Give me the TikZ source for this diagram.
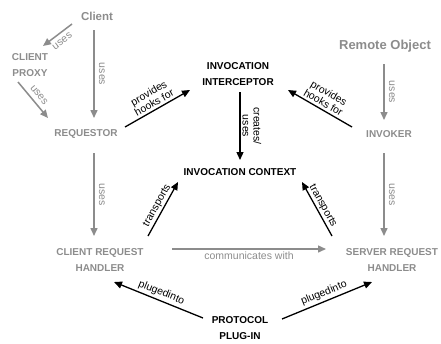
\documentclass[tikz,border=0pt]{standalone}
\usepackage{fontspec}
\setmainfont{Liberation Sans}
\usetikzlibrary{arrows.meta}
\definecolor{lgray}{RGB}{140,140,140}
\begin{document}
\begin{tikzpicture}[x=1pt,y=-1pt,
 every node/.style={inner sep=0pt, outer sep=0pt},
 nd/.style={font=\bfseries\fontsize{10}{16}\selectfont, align=center},
 gnd/.style={nd, text=lgray},
 bigg/.style={font=\bfseries\fontsize{11.5}{14}\selectfont, text=lgray},
 lbl/.style={font=\fontsize{10.5}{11}\selectfont, sloped, inner sep=3pt, align=center},
 glbl/.style={lbl, text=lgray, inner sep=5pt},
 barrow/.style={draw=black, line width=1.3pt, -{Triangle[length=8pt,width=7pt]}},
 garrow/.style={draw=lgray, line width=1.5pt, -{Triangle[length=8pt,width=7pt]}},
]
\useasboundingbox (0,0) rectangle (441,343);
\node[bigg] (client) at (97,16) {Client};
\node[gnd] (proxy) at (30,65) {CLIENT\\PROXY};
\node[gnd] (requestor) at (86,134) {REQUESTOR};
\node[nd] (interceptor) at (238,74) {INVOCATION\\INTERCEPTOR};
\node[bigg, font=\bfseries\fontsize{13}{14}\selectfont] (remote) at (385,46) {Remote Object};
\node[gnd] (invoker) at (389,134) {INVOKER};
\node[nd] (context) at (240,172) {INVOCATION CONTEXT};
\node[gnd] (crh) at (100,260) {CLIENT REQUEST\\HANDLER};
\node[gnd] (srh) at (392,260) {SERVER REQUEST\\HANDLER};
\node[nd] (ppi) at (240,328) {PROTOCOL\\PLUG-IN};

\draw[garrow] ([shift={(-25,8)}]client.center) -- node[glbl,below]{uses} ([shift={(13,-19)}]proxy.center);
\draw[garrow] ([shift={(-3,14)}]client.center) -- node[glbl,above]{uses} ([shift={(8,-16)}]requestor.center);
\draw[garrow] ([shift={(-12,17)}]proxy.center) -- node[glbl,above]{uses} ([shift={(-38,-16)}]requestor.center);
\draw[barrow] ([shift={(39,-7)}]requestor.center) -- node[lbl,above]{provides\\hooks for} ([shift={(-48,16)}]interceptor.center);
\draw[barrow] ([shift={(-37,-7)}]invoker.center) -- node[lbl,above]{provides\\hooks for} ([shift={(50,16)}]interceptor.center);
\draw[garrow] ([shift={(-1,18)}]remote.center) -- node[glbl,above]{uses} ([shift={(-5,-14)}]invoker.center);
\draw[barrow] ([shift={(2,18)}]interceptor.center) -- node[lbl,above,inner sep=2.5pt]{creates/\\uses} ([shift={(0,-12)}]context.center);
\draw[garrow] ([shift={(8,19)}]requestor.center) -- node[glbl,above]{uses} ([shift={(-6,-24)}]crh.center);
\draw[garrow] ([shift={(-5,19)}]invoker.center) -- node[glbl,above]{uses} ([shift={(-8,-24)}]srh.center);
\draw[barrow] ([shift={(48,-24)}]crh.center) -- node[lbl,above,inner sep=2pt]{transports} ([shift={(-62,10)}]context.center);
\draw[barrow] ([shift={(-60,-24)}]srh.center) -- node[lbl,above,inner sep=2pt]{transports} ([shift={(62,10)}]context.center);
\draw[garrow] ([shift={(72,-11)}]crh.center) -- node[glbl,below,sloped=false,inner sep=3pt]{communicates with} ([shift={(-66,-11)}]srh.center);
\draw[barrow] ([shift={(-37,-10)}]ppi.center) -- node[lbl,above]{plugedinto} ([shift={(14,22)}]crh.center);
\draw[barrow] ([shift={(42,-9)}]ppi.center) -- node[lbl,above]{plugedinto} ([shift={(-20,22)}]srh.center);
\end{tikzpicture}
\end{document}
